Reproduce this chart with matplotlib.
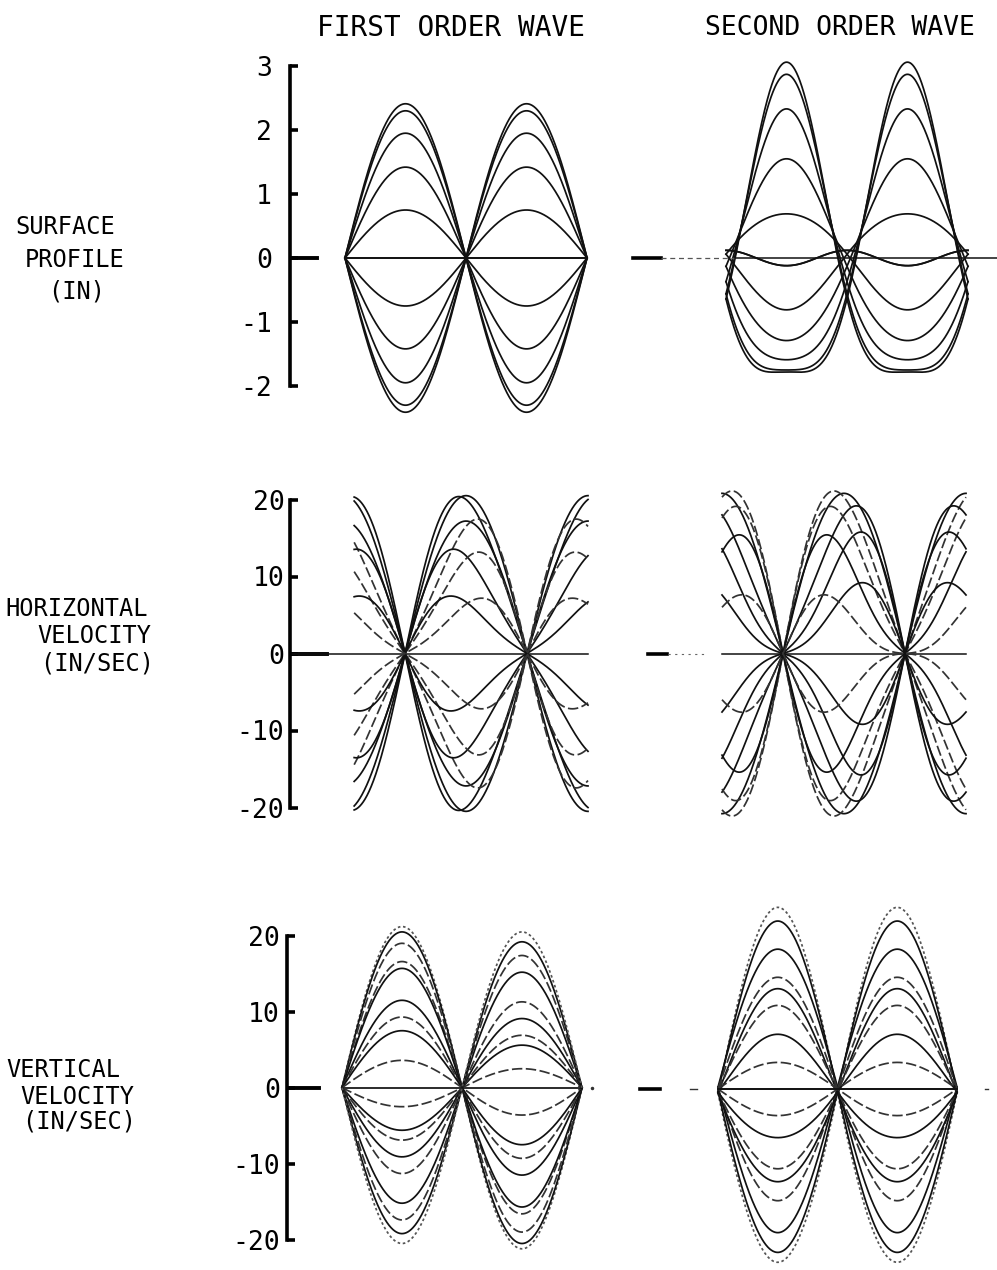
import numpy as np
import matplotlib
matplotlib.use('Agg')
import matplotlib.pyplot as plt

W, H = 997, 1270
FONT = ['DejaVu Sans Mono', 'DejaVu Sans']

# phase along one wavelength (degrees); node of the first harmonic at 90
THETA = np.linspace(-90, 270, 721)

# surface profile snapshots (in): first-harmonic amplitude, plotted with both signs
SP1_AMP = [2.41, 2.30, 1.95, 1.42, 0.75, 0.0]
# second order: first-harmonic amplitude and second-harmonic amplitude
SP2_A = [2.42, 2.31, 1.96, 1.42, 0.75, 0.0]
SP2_B = [0.64, 0.56, 0.37, 0.13, -0.06, -0.12]

# horizontal velocity (in/sec): sin(theta) and sin(2 theta) amplitudes
HV1_A = [20.5, 20.0, 17.2, 16.5, 12.7, 12.3, 6.7, 6.4]
HV1_B = [0.0, 2.0, 0.0, -3.0, 2.5, -2.5, 1.8, -1.8]
HV2_A = [20.8, 20.3, 18.0, 17.6, 13.6, 13.2, 7.6, 6.0]
HV2_B = [0.0, 3.0, -3.5, 4.0, -4.5, 4.5, -3.0, 2.8]

# vertical velocity (in/sec)
VV1_AMP = [21.2, 20.5, 19.0, 16.6, 15.7, 11.5, 9.3, 7.5, 3.6, 0.0,
           -2.5, -5.6, -6.9, -9.1, -11.3, -15.2, -17.4, -19.2, -20.5]
VV2_A = [23.35, 21.8, 18.65, 14.7, 12.7, 10.75, 6.8, 3.5, 0.0]
VV2_B = [0.55, 0.3, -0.25, 0.0, 0.5, 0.25, 0.4, 0.0, 0.0]

SP_TICKS = [3, 2, 1, 0, -1, -2]
V_TICKS = [20, 10, 0, -10, -20]

ROW_LABELS = [
    [('SURFACE', 15, 227), ('PROFILE', 25, 260), ('(IN)', 48, 292)],
    [('HORIZONTAL', 5, 609), ('VELOCITY', 37, 636), ('(IN/SEC)', 40, 663)],
    [('VERTICAL', 6, 1070), ('VELOCITY', 20, 1097), ('(IN/SEC)', 22, 1122)],
]

# plotter pen style of each trace: s solid, d dashed, o dotted
HV1_PEN = 'sssdsdsd'
HV2_PEN = 'sdsdsssd'
VV1_PEN = 'osddssdsdsdsdsdsdso'
VV2_PEN = 'ossdsdsds'

PENS = {
    's': dict(color='#111111', ls='-'),
    'd': dict(color='#333333', ls=(0, (6, 2))),
    'o': dict(color='#555555', ls=(0, (1.5, 1.5))),
}


def make_axes(fig, x0, x1, y0, y1, th_m90, th_270, zero_px, px_per_unit):
    """Axes spanning pixel box x0..x1, y0..y1 with theta / value mapping."""
    ax = fig.add_axes([x0 / W, 1 - y1 / H, (x1 - x0) / W, (y1 - y0) / H])
    deg_px = (th_270 - th_m90) / 360.0
    ax.set_xlim(-90 + (x0 - th_m90) / deg_px, -90 + (x1 - th_m90) / deg_px)
    ax.set_ylim((zero_px - y1) / px_per_unit, (zero_px - y0) / px_per_unit)
    ax.patch.set_alpha(0)
    for s in ['top', 'right', 'bottom']:
        ax.spines[s].set_visible(False)
    ax.set_xticks([])
    return ax


def style_left(ax, ticks, pad, zero_len):
    ax.spines['left'].set_linewidth(2.6)
    ax.spines['left'].set_bounds(min(ticks), max(ticks))
    ax.set_yticks(ticks)
    ax.set_yticklabels([str(t) for t in ticks], family=FONT, fontsize=19)
    ax.tick_params(axis='y', direction='in', length=6, width=2.6, pad=pad)
    ax.axhline(0, xmin=0, xmax=zero_len, color='black', lw=2.8)


def bare(ax):
    ax.spines['left'].set_visible(False)
    ax.set_yticks([])


def trace(ax, x, y, pen='s'):
    ax.plot(x, y, lw=1.25, **PENS[pen])


fig = plt.figure(figsize=(W / 100, H / 100), dpi=100)

rad = np.deg2rad(THETA)

# ---- surface profile ----
ax = make_axes(fig, 290, 610, 50, 420, 345, 587, 258, 64)
style_left(ax, SP_TICKS, 13, 0.085)
for a in SP1_AMP:
    for s in (1, -1):
        trace(ax, THETA, s * a * np.cos(rad))

ax = make_axes(fig, 620, 997, 40, 420, 726, 968, 258, 64)
bare(ax)
for a, b in zip(SP2_A, SP2_B):
    for s in (1, -1):
        trace(ax, THETA, s * a * np.cos(rad) + b * np.cos(2 * rad))
ax.axhline(0, xmin=(633 - 620) / 377, xmax=(661 - 620) / 377, color='black', lw=2.6)
ax.axhline(0, xmin=(661 - 620) / 377, xmax=(735 - 620) / 377, color='#555555',
           lw=0.9, ls=(0, (4, 3)))
ax.axhline(0, xmin=(735 - 620) / 377, xmax=1, color='#111111', lw=1.1)

# ---- horizontal velocity ----
ax = make_axes(fig, 290, 610, 480, 830, 344, 588, 653.5, 7.7)
style_left(ax, V_TICKS, 4, 0.115)
ax.axhline(0, xmin=0, xmax=(588 - 290) / 320, color='#111111', lw=1.1)
th1 = THETA[THETA >= -75]
r1 = np.deg2rad(th1)
for a, b, pen in zip(HV1_A, HV1_B, HV1_PEN):
    for s in (1, -1):
        trace(ax, th1, s * (a * np.sin(r1) + b * np.sin(2 * r1)), pen)

ax = make_axes(fig, 620, 997, 480, 830, 722, 966, 653.5, 7.7)
bare(ax)
ax.axhline(0, xmin=(648 - 620) / 377, xmax=(667 - 620) / 377, color='black', lw=2.6)
ax.axhline(0, xmin=(668 - 620) / 377, xmax=(705 - 620) / 377, color='#666666',
           lw=0.8, ls=(0, (2, 4)))
ax.axhline(0, xmin=(722 - 620) / 377, xmax=(966 - 620) / 377, color='#111111', lw=1.1)
for a, b, pen in zip(HV2_A, HV2_B, HV2_PEN):
    for s in (1, -1):
        trace(ax, THETA, s * (a * np.sin(rad) + b * np.sin(2 * rad)), pen)

# ---- vertical velocity ----
ax = make_axes(fig, 287, 610, 915, 1260, 342, 582, 1087.7, 7.6)
style_left(ax, V_TICKS, 5, 0.1)
for a, pen in zip(VV1_AMP, VV1_PEN):
    trace(ax, THETA, a * np.cos(rad), pen)
ax.plot([285], [0], marker='o', ms=1.5, color='#333333')

ax = make_axes(fig, 620, 997, 890, 1270, 718, 957, 1089, 7.6)
bare(ax)
ax.axhline(0, xmin=(640 - 620) / 377, xmax=(660 - 620) / 377, color='black', lw=2.6)
ax.axhline(0, xmin=(690 - 620) / 377, xmax=(697 - 620) / 377, color='#333333', lw=1.0)
ax.axhline(0, xmin=(985 - 620) / 377, xmax=(988 - 620) / 377, color='#333333', lw=1.0)
for a, b, pen in zip(VV2_A, VV2_B, VV2_PEN):
    for s in (1, -1):
        trace(ax, THETA, s * a * np.cos(rad) + b * np.cos(2 * rad), pen)

# ---- titles and row labels ----
fig.text(451 / W, 1 - 28 / H, 'FIRST ORDER WAVE', family=FONT, fontsize=20,
         ha='center', va='center')
fig.text(840 / W, 1 - 28 / H, 'SECOND ORDER WAVE', family=FONT, fontsize=19,
         ha='center', va='center')
for row in ROW_LABELS:
    for txt, x, y in row:
        fig.text(x / W, 1 - y / H, txt, family=FONT, fontsize=17,
                 ha='left', va='center')

fig.savefig('out.png', dpi=100, facecolor='white')
